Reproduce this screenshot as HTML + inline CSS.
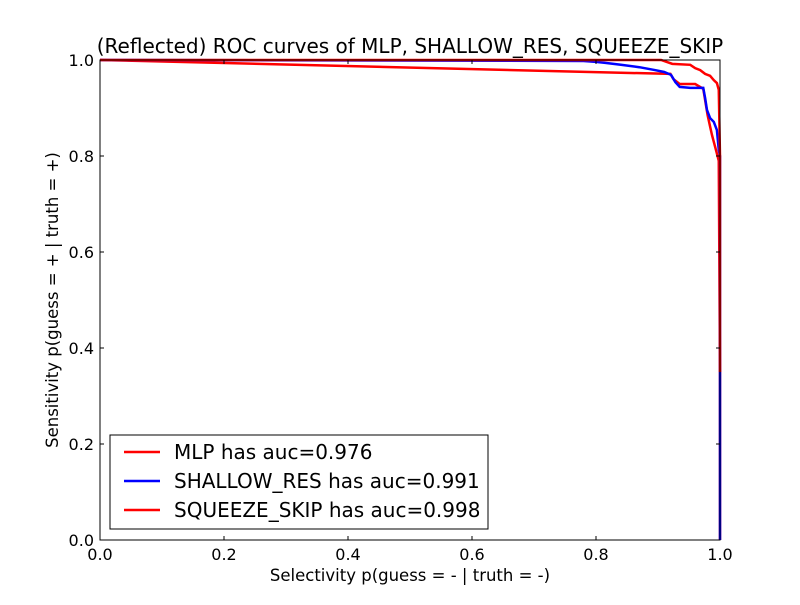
<!DOCTYPE html>
<html><head><meta charset="utf-8"><style>
body{margin:0;background:#fff;}
svg text{font-family:"DejaVu Sans","Liberation Sans",sans-serif;}
</style></head><body>
<svg id="chart" width="800" height="600" xmlns="http://www.w3.org/2000/svg">
<rect width="800" height="600" fill="#fff"/>
<g id="plot"></g>
</svg>
<script>
const xTicks=[0,0.2,0.4,0.6,0.8,1.0];
const yTicks=[0,0.2,0.4,0.6,0.8,1.0];
const mlpX=[0,0.92,0.925,0.935,0.96,0.973,0.98,0.987,0.994,0.998,1.0,1.0];
const mlpY=[1,0.971,0.96,0.95,0.95,0.94,0.885,0.844,0.81,0.79,0.35,0];
const resX=[0,0.78,0.8,0.815,0.84,0.87,0.895,0.91,0.921,0.928,0.935,0.952,0.973,0.976,0.979,0.984,0.99,0.995,0.998,1.0,1.0];
const resY=[1,0.998,0.996,0.994,0.99,0.985,0.979,0.975,0.969,0.954,0.944,0.942,0.942,0.921,0.896,0.879,0.871,0.854,0.813,0.8,0];
const sqX=[0,0.845,0.905,0.923,0.952,0.96,0.968,0.976,0.984,0.99,0.995,0.998,1.0,1.0];
const sqY=[1,1.0,1.0,0.992,0.99,0.983,0.979,0.971,0.967,0.958,0.952,0.938,0.8,0.35];
const L=100,R=720,T=60,B=540;
const sx=v=>L+v*(R-L), sy=v=>B-v*(B-T);
const g=document.getElementById('plot');
const NS='http://www.w3.org/2000/svg';
function mk(tag,attrs){const e=document.createElementNS(NS,tag);for(const k in attrs)e.setAttribute(k,attrs[k]);g.appendChild(e);return e;}
function series(xs,ys,color,name){
  const p=mk('polyline',{points:xs.map((x,i)=>sx(x)+','+sy(ys[i])).join(' '),fill:'none',stroke:color,'stroke-width':2.5,'stroke-linejoin':'miter'});
  
  
}
series(mlpX,mlpY,'#ff0000','mlp-curve');
series(resX,resY,'#0000ff','shallow-res-curve');
series(sqX,sqY,'#ff0000','squeeze-skip-curve');
const frame=mk('rect',{x:L,y:T,width:R-L,height:B-T,fill:'none',stroke:'#000','stroke-width':1});


xTicks.forEach(v=>{
  mk('line',{x1:sx(v),x2:sx(v),y1:B,y2:B-4,stroke:'#000'});
  mk('line',{x1:sx(v),x2:sx(v),y1:T,y2:T+4,stroke:'#000'});
  const t=mk('text',{x:sx(v),y:B+20,'text-anchor':'middle','font-size':16});
  t.textContent=v.toFixed(1);
  
  
});
yTicks.forEach(v=>{
  mk('line',{x1:L,x2:L+4,y1:sy(v),y2:sy(v),stroke:'#000'});
  mk('line',{x1:R,x2:R-4,y1:sy(v),y2:sy(v),stroke:'#000'});
  const t=mk('text',{x:L-6,y:sy(v)+6,'text-anchor':'end','font-size':16});
  t.textContent=v.toFixed(1);
  
  
});
let t=mk('text',{x:410,y:53,'text-anchor':'middle','font-size':20});
t.textContent='(Reflected) ROC curves of MLP, SHALLOW_RES, SQUEEZE_SKIP';


t=mk('text',{x:410,y:581,'text-anchor':'middle','font-size':16.5});
t.textContent='Selectivity p(guess = - | truth = -)';


t=mk('text',{x:58,y:300,'text-anchor':'middle','font-size':16.5,transform:'rotate(-90 58 300)'});
t.textContent='Sensitivity p(guess = + | truth = +)';


const lg=mk('rect',{x:110,y:435,width:378,height:94,fill:'#fff',stroke:'#000'});


const entries=[['MLP has auc=0.976','#ff0000'],['SHALLOW_RES has auc=0.991','#0000ff'],['SQUEEZE_SKIP has auc=0.998','#ff0000']];
entries.forEach((e,i)=>{
  const y=452+i*29;
  mk('line',{x1:124,x2:160,y1:y,y2:y,stroke:e[1],'stroke-width':2.5});
  const tx=mk('text',{x:174,y:y+7,'font-size':20});
  tx.textContent=e[0];
  
  
});
</script>
</body></html>
